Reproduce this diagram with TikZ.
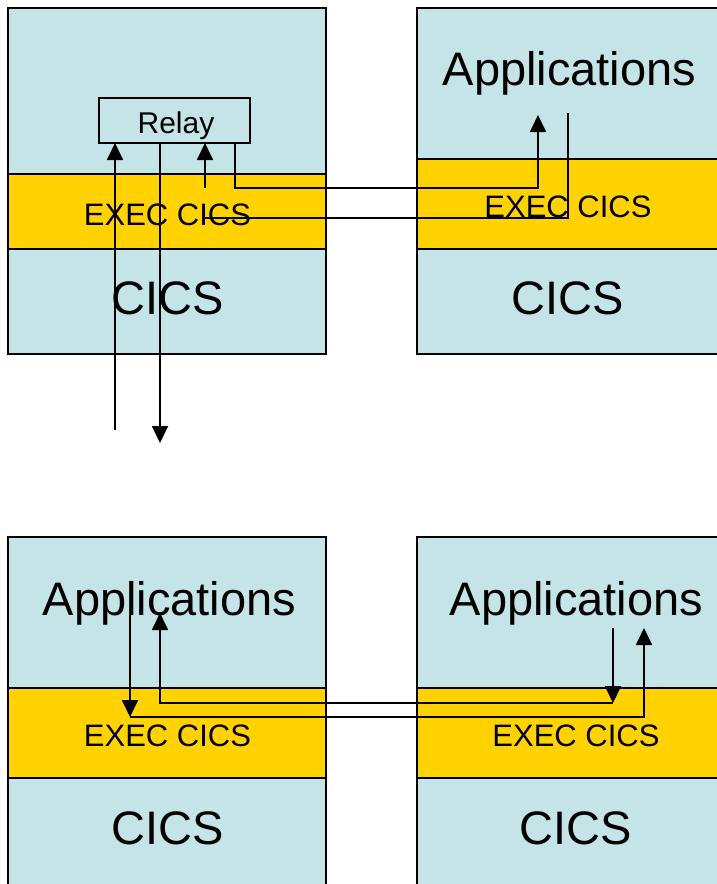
\documentclass[tikz,border=0pt]{standalone}
\usepackage{fontspec}
\setmainfont{Liberation Sans}
\usetikzlibrary{arrows.meta}
\definecolor{lblue}{RGB}{197,228,231}
\definecolor{cyel}{RGB}{255,210,0}
\begin{document}
\begin{tikzpicture}[x=1pt,y=-1pt,
  layer/.style={draw=black,line width=1.8pt,anchor=north west,inner sep=0pt,outer sep=0pt},
  app/.style={layer,fill=lblue},
  exe/.style={layer,fill=cyel},
  big/.style={font=\fontsize{47}{50}\selectfont,inner sep=0pt,anchor=base},
  mid/.style={font=\fontsize{31}{34}\selectfont,inner sep=0pt,anchor=base},
  conn/.style={line width=1.8pt},
  arr/.style={conn,-{Triangle[length=17pt,width=16pt]}}]
\useasboundingbox (0,0) rectangle (717,884);
\fill[white] (0,0) rectangle (717,884);
% top-left stack
\node[app,minimum width=318pt,minimum height=166pt] (tlapp) at (8,8) {};
\node[exe,minimum width=318pt,minimum height=75pt] (tlexe) at (8,174) {};
\node[app,minimum width=318pt,minimum height=105pt] (tlcics) at (8,249) {};
% top-right stack
\node[app,minimum width=330pt,minimum height=151pt] (trapp) at (417,8) {};
\node[exe,minimum width=330pt,minimum height=90pt] (trexe) at (417,159) {};
\node[app,minimum width=330pt,minimum height=105pt] (trcics) at (417,249) {};
% bottom-left stack
\node[app,minimum width=318pt,minimum height=151pt] (blapp) at (8,537) {};
\node[exe,minimum width=318pt,minimum height=90pt] (blexe) at (8,688) {};
\node[app,minimum width=318pt,minimum height=120pt] (blcics) at (8,778) {};
% bottom-right stack
\node[app,minimum width=330pt,minimum height=151pt] (brapp) at (417,537) {};
\node[exe,minimum width=330pt,minimum height=90pt] (brexe) at (417,688) {};
\node[app,minimum width=330pt,minimum height=120pt] (brcics) at (417,778) {};
% relay
\node[app,minimum width=151pt,minimum height=45pt] (relay) at (99,98) {};
\node[mid,font=\fontsize{30}{32}\selectfont] (relaytx) at (176,133) {Relay};
% texts
\node[big] (t1) at (569.5,85) {Applications};
\node[mid] (t2) at (167.5,225) {EXEC CICS};
\node[mid] (t3) at (568,217) {EXEC CICS};
\node[big] (t4) at (167.5,314) {CICS};
\node[big] (t5) at (568,314) {CICS};
\node[big] (t6) at (169.5,615) {Applications};
\node[big] (t7) at (576.5,615) {Applications};
\node[mid] (t8) at (167.5,746) {EXEC CICS};
\node[mid] (t9) at (576,746) {EXEC CICS};
\node[big] (t10) at (168,844) {CICS};
\node[big] (t11) at (576,844) {CICS};
% coordinates for connectors
\coordinate (inA) at (115,430);
\coordinate (outB) at (160,443);
\coordinate (upC) at (205,188);
\coordinate (retC) at (205,218);
\coordinate (appIn) at (538,115);
\coordinate (appOut) at (568,113);
% top connectors
\draw[arr] (inA) -- (inA |- relay.south);
\draw[arr] (outB |- relay.south) -- (outB);
\draw[arr] (upC) -- (upC |- relay.south);
\draw[arr] (235,143) -- (235,188) -- (538,188) -- (appIn);
\draw[conn] (appOut) -- (568,218) -- (retC);
% bottom connectors
\coordinate (bA1) at (130,615);
\coordinate (bA2) at (130,717);
\coordinate (bA3) at (644,717);
\coordinate (bA4) at (644,628);
\coordinate (bB1) at (613,628);
\coordinate (bB2) at (613,703);
\coordinate (bB3) at (160,703);
\coordinate (bB4) at (160,613);
\draw[arr] (bA1) -- (bA2);
\draw[arr] (bA2) -- (bA3) -- (bA4);
\draw[arr] (bB1) -- (bB2);
\draw[arr] (bB2) -- (bB3) -- (bB4);
\end{tikzpicture}
\end{document}
